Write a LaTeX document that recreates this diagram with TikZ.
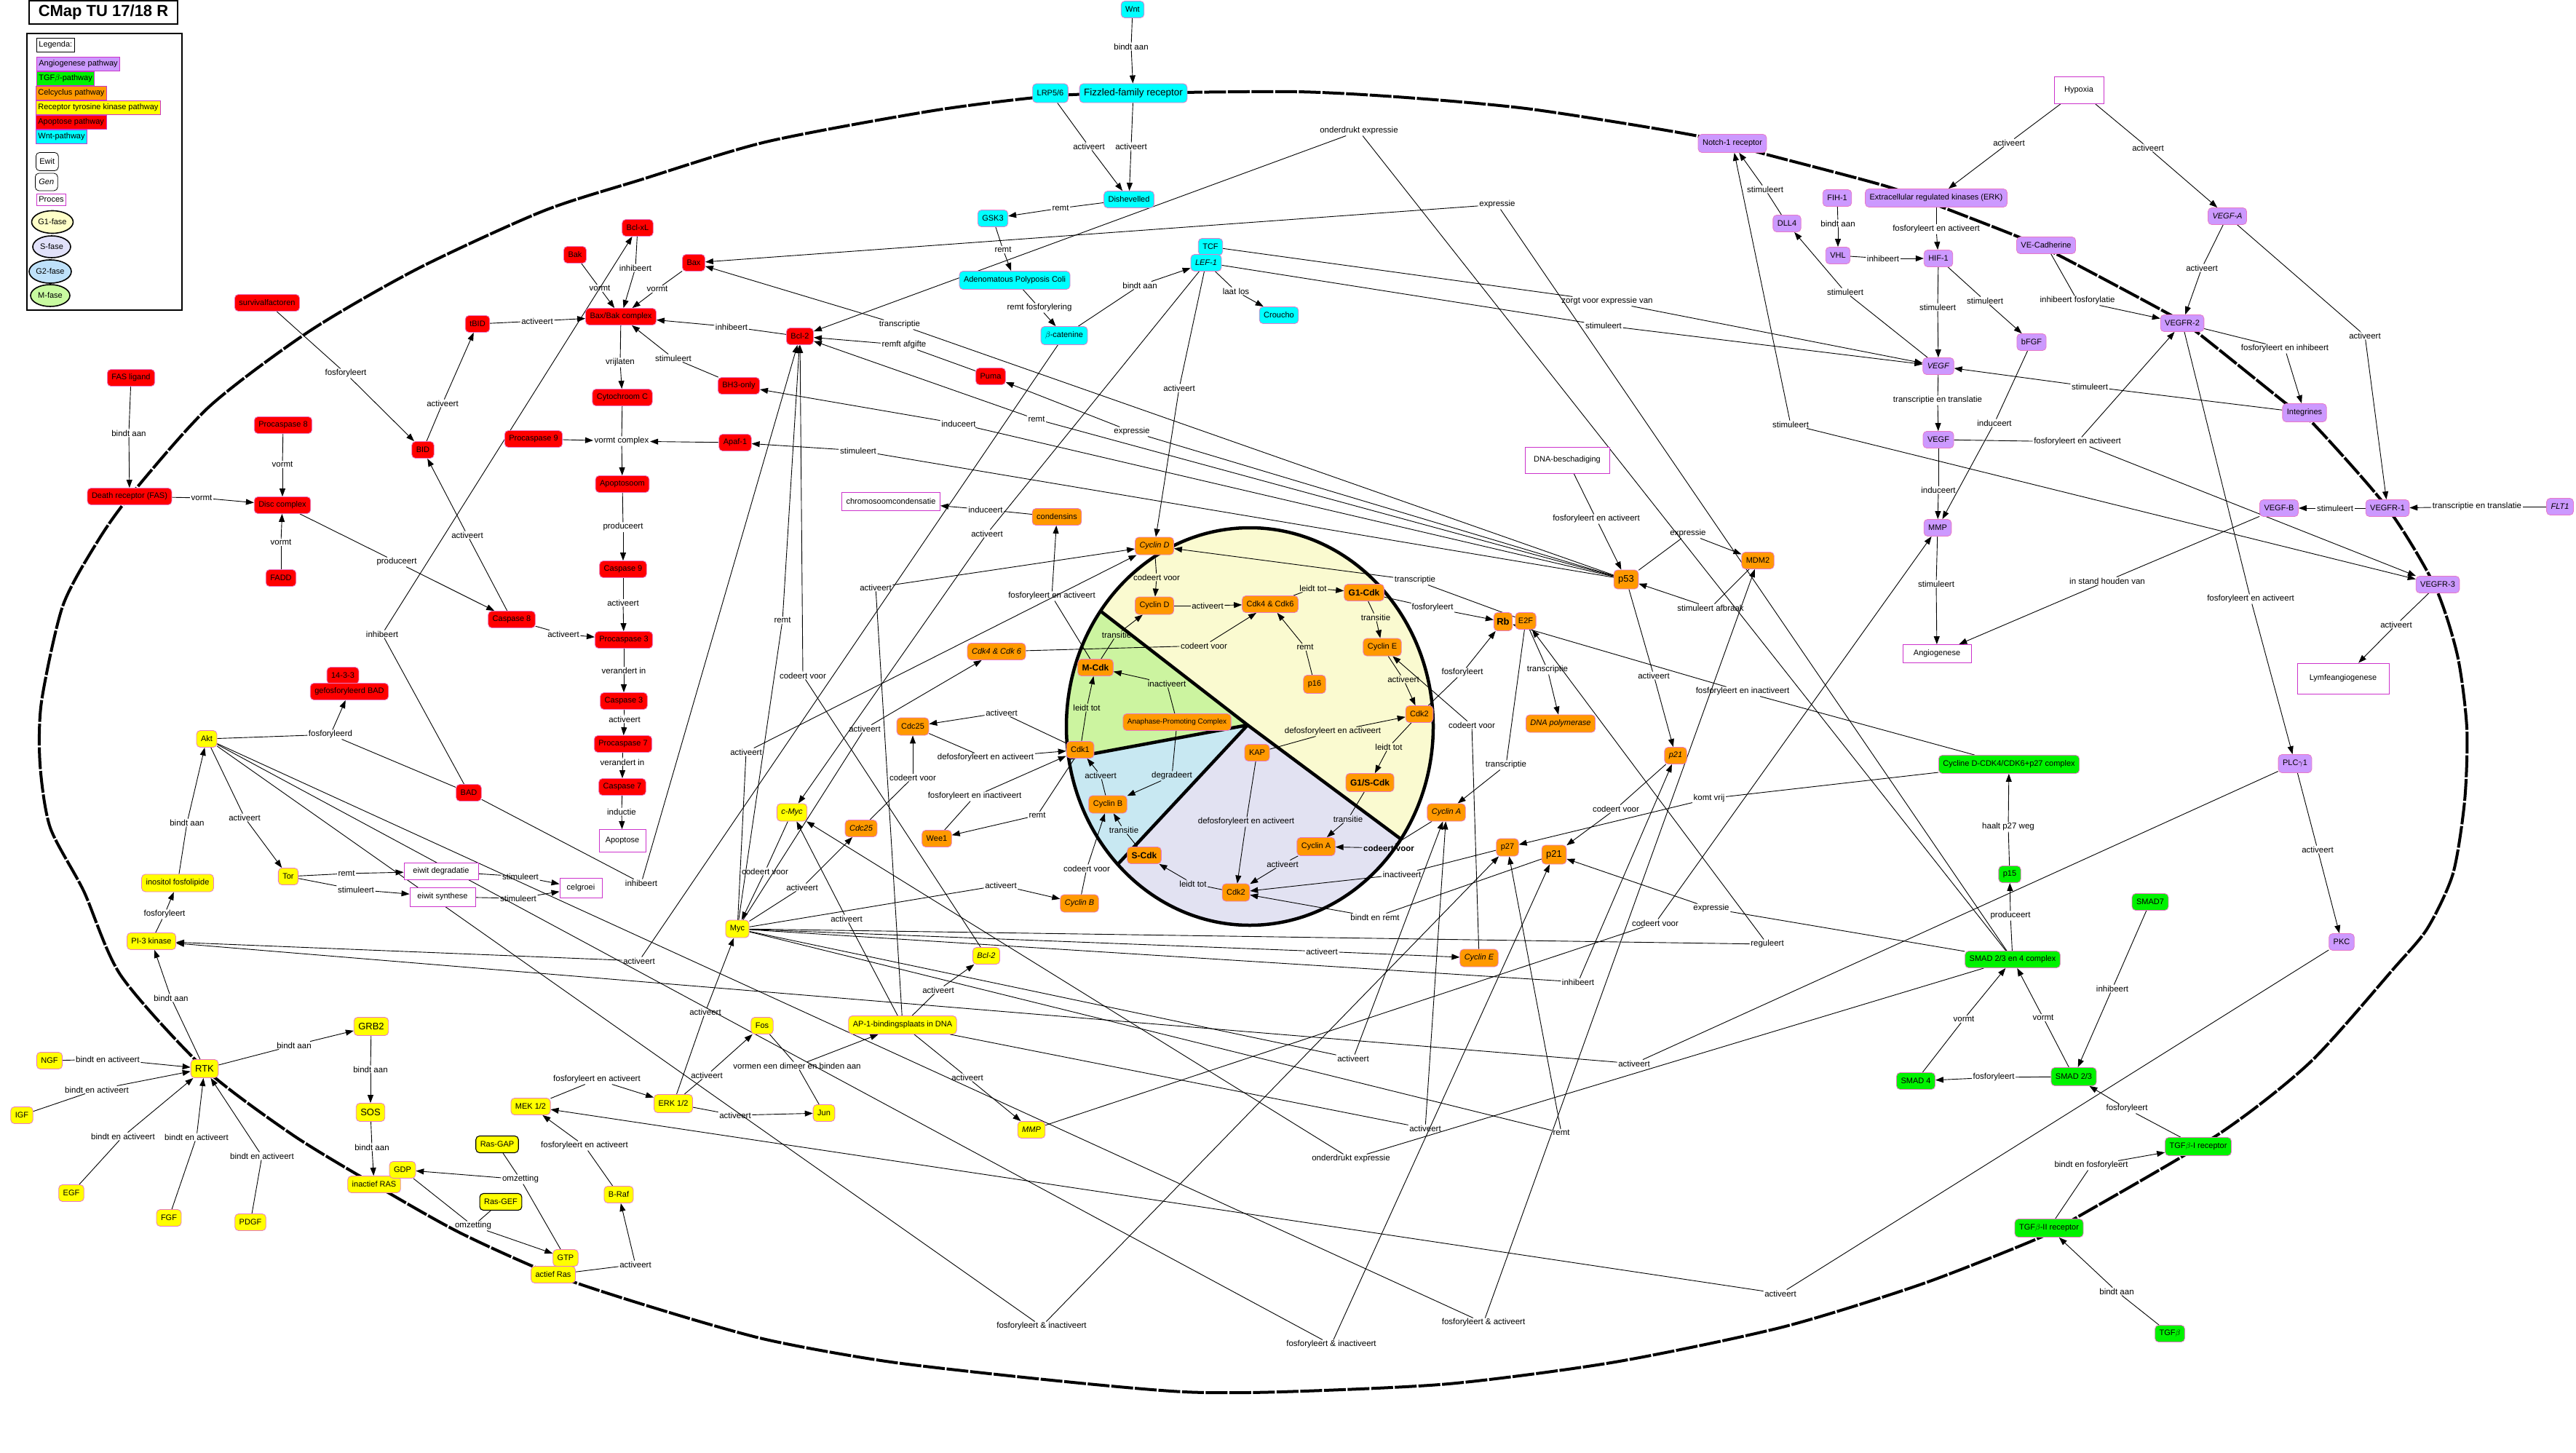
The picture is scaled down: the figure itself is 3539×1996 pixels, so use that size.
\documentclass[tikz,border=0pt]{standalone}
\usepackage{fontspec}
\setmainfont{Liberation Sans}
\usetikzlibrary{arrows.meta,shapes.geometric}
\pgfdeclarelayer{back}
\pgfdeclarelayer{edges}
\pgfsetlayers{back,edges,main}
\definecolor{cpurple}{RGB}{204,153,255}
\definecolor{cgreen}{RGB}{0,242,0}
\definecolor{corange}{RGB}{255,153,0}
\definecolor{cyellow}{RGB}{255,255,0}
\definecolor{cred}{RGB}{255,0,0}
\definecolor{ccyan}{RGB}{0,255,255}
\definecolor{cmag}{RGB}{204,51,204}
\definecolor{cbord}{RGB}{232,120,200}
\definecolor{g1col}{RGB}{250,250,208}
\definecolor{scol}{RGB}{226,226,242}
\definecolor{g2col}{RGB}{200,232,242}
\definecolor{mcol}{RGB}{204,244,160}
\definecolor{lg1}{RGB}{255,255,200}
\definecolor{lgs}{RGB}{225,225,250}
\definecolor{lg2}{RGB}{190,225,250}
\definecolor{lgm}{RGB}{200,250,160}
\newcommand{\cmrel}[5]{%
  \node[lbl] (#2) at (#3) {#4};%
  \begin{pgfonlayer}{edges}\draw[ln] (#1) -- (#2);\draw[ar] (#2) -- (#5);\end{pgfonlayer}}
\newcommand{\cmln}[2]{\begin{pgfonlayer}{edges}\draw[ln] (#1) -- (#2);\end{pgfonlayer}}
\newcommand{\cmar}[2]{\begin{pgfonlayer}{edges}\draw[ar] (#1) -- (#2);\end{pgfonlayer}}
\begin{document}
\begin{tikzpicture}[x=1pt,y=-1pt,
  nd/.style={rectangle, rounded corners=5pt, draw=cbord, line width=0.8pt, inner xsep=6pt, inner ysep=2pt, minimum height=23pt, font=\fontsize{11}{13}\selectfont, text=black},
  nR/.style={nd, fill=cred}, nY/.style={nd, fill=cyellow}, nO/.style={nd, fill=corange},
  nP/.style={nd, fill=cpurple}, nG/.style={nd, fill=cgreen}, nC/.style={nd, fill=ccyan},
  pr/.style={rectangle, draw=cmag, line width=0.9pt, fill=white, inner xsep=6pt, font=\fontsize{11}{13}\selectfont},
  lbl/.style={inner xsep=1.5pt, inner ysep=1pt, font=\fontsize{11.5}{13}\selectfont, text=black},
  ln/.style={line width=0.9pt, black},
  ar/.style={ln, -{Triangle[length=11pt,width=8pt]}},
  big/.style={font=\fontsize{13}{15}\selectfont},
  bld/.style={font=\bfseries\fontsize{12}{14}\selectfont},
  lg/.style={rectangle, draw=cmag, line width=0.8pt, inner xsep=3pt, inner ysep=2pt, minimum height=19pt, font=\fontsize{11}{13}\selectfont, anchor=west},
  lge/.style={ellipse, draw=black, line width=1.6pt, inner sep=0pt, font=\fontsize{11}{13}\selectfont},
  cyc/.style={line width=4.5pt, black},
  memb/.style={line width=4pt, black, dash pattern=on 30pt off 2.5pt}
]
\useasboundingbox (0,0) rectangle (3539,1996);
\begin{pgfonlayer}{back}
\fill[white] (0,0) rectangle (3539,1996);
\begin{scope}
\clip (1717,998) ellipse [x radius=252pt, y radius=273pt];
\fill[g1col] (1714,996) -- (1119,535) -- (1300,300) -- (2400,200) -- (2400,1470) -- (2335,1458) -- cycle;
\fill[mcol] (1714,996) -- (970,1134) -- (900,700) -- (1119,535) -- cycle;
\fill[g2col] (1714,996) -- (1174,1575) -- (970,1134) -- cycle;
\fill[scol] (1714,996) -- (2335,1458) -- (1714,1800) -- (1174,1575) -- cycle;
\draw[cyc] (1714,996) -- (1119,535) (1714,996) -- (970,1134) (1714,996) -- (1174,1575) (1714,996) -- (2335,1458);
\end{scope}
\draw[cyc] (1717,998) ellipse [x radius=252pt, y radius=273pt];
\draw[memb] plot[smooth cycle, tension=0.45] coordinates {
 (178,682) (287,559) (425,455) (574,369) (746,290) (880,247) (1052,195) (1282,152) (1443,132)
 (1557,128) (1780,126) (1932,134) (2104,150) (2328,186) (2426,212) (2592,256) (2672,286)
 (2772,325) (2829,351) (2979,431) (3019,457) (3139,553) (3177,581) (3280,698) (3345,805)
 (3376,900) (3389,1000) (3386,1100) (3370,1200) (3335,1275) (3289,1330) (3174,1459)
 (3048,1558) (2852,1673) (2798,1702) (2640,1764) (2449,1823) (2219,1871) (1990,1901)
 (1760,1912) (1626,1912) (1454,1897) (1224,1871) (1052,1840) (900,1797) (760,1751)
 (631,1693) (514,1627) (402,1559) (281,1468) (166,1340) (115,1224) (69,1137) (55,1050)
 (57,964) (86,833) (132,747)};
\end{pgfonlayer}

% ---------- title and legend
\node[draw, line width=1.2pt, minimum width=204pt, minimum height=32pt, font=\bfseries\fontsize{22}{24}\selectfont] (title) at (142,17) {CMap TU 17/18 R};
\node[draw, line width=1.2pt, minimum width=213pt, minimum height=380pt] (legend) at (143.5,236) {};
\node[lg, draw=black] (lg0) at (50,62) {Legenda:};
\node[lg, fill=cpurple] (lg1) at (50,88) {Angiogenese pathway};
\node[lg, fill=cgreen] (lg2) at (50,108) {TGF$\beta$-pathway};
\node[lg, fill=corange] (lg3) at (49,128) {Celcyclus pathway};
\node[lg, fill=cyellow] (lg4) at (49,148) {Receptor tyrosine kinase pathway};
\node[lg, fill=cred] (lg5) at (49,168) {Apoptose pathway};
\node[lg, fill=ccyan] (lg6) at (49,188) {Wnt-pathway};
\node[nd, draw=black, fill=white, anchor=west, minimum height=25pt, inner xsep=5pt] (lg7) at (49,222) {Ewit};
\node[nd, draw=black, fill=white, anchor=west, minimum height=24pt, inner xsep=5pt] (lg8) at (48,250) {\textit{Gen}};
\node[lg, minimum height=16pt] (lg9) at (50,274) {Proces};
\node[lge, fill=lg1, minimum width=57pt, minimum height=31pt] (lgg1) at (72,305) {G1-fase};
\node[lge, fill=lgs, minimum width=52pt, minimum height=30pt] (lgs) at (71,339) {S-fase};
\node[lge, fill=lg2, minimum width=58pt, minimum height=32pt] (lgg2) at (69,373) {G2-fase};
\node[lge, fill=lgm, minimum width=54pt, minimum height=30pt] (lgm) at (69,406) {M-fase};

% ---------- apoptosis
\node[nR] (bclxl) at (876,313) {Bcl-xL};
\node[nR] (bak) at (790,350) {Bak};
\node[nR] (baxbak) at (853,435) {Bax/Bak complex};
\node[nR] (tbid) at (656,445) {tBID};
\node[nR] (survival) at (367,416) {survivalfactoren};
\node[nR] (fasl) at (180,519) {FAS ligand};
\node[nR] (procasp8) at (389,584) {Procaspase 8};
\node[nR] (bid) at (581,618) {BID};
\node[nR] (cytc) at (855,546) {Cytochroom C};
\node[nR] (procasp9) at (733,603) {Procaspase 9};
\node[nR] (apoptosoom) at (855,665) {Apoptosoom};
\node[nR] (deathr) at (178,682) {Death receptor (FAS)};
\node[nR] (disc) at (388,694) {Disc complex};
\node[nR] (fadd) at (386,794) {FADD};
\node[nR] (casp8) at (703,851) {Caspase 8};
\node[nR] (casp9) at (856,782) {Caspase 9};
\node[nR] (procasp3) at (857,879) {Procaspase 3};
\node[nR] (casp3) at (857,963) {Caspase 3};
\node[nR] (procasp7) at (856,1022) {Procaspase 7};
\node[nR] (casp7) at (855,1081) {Caspase 7};
\node[pr, minimum width=64pt, minimum height=31pt] (apoptose) at (855,1155) {Apoptose};
\node[nR] (n1433) at (471,928) {14-3-3};
\node[nR] (pbad) at (480,950) {gefosforyleerd BAD};
\node[nR] (bad) at (644,1089) {BAD};
\node[nR] (bax) at (953,361) {Bax};
\node[nR] (bcl2) at (1099,462) {Bcl-2};
\node[nR] (bh3) at (1015,530) {BH3-only};
\node[nR] (apaf) at (1010,608) {Apaf-1};
\node[nR] (puma) at (1361,517) {Puma};

% ---------- Wnt
\node[nC] (wnt) at (1556,13) {Wnt};
\node[nC, font=\fontsize{13.5}{15}\selectfont, minimum height=26pt] (fzd) at (1557,128) {Fizzled-family receptor};
\node[nC, minimum height=26pt] (lrp) at (1443,128) {LRP5/6};
\node[nC] (dsh) at (1551,274) {Dishevelled};
\node[nC] (gsk) at (1364,300) {GSK3};
\node[nC, minimum height=25pt] (apc) at (1394,385) {Adenomatous Polyposis Coli};
\node[nC, minimum height=25pt] (bcat) at (1462,461) {$\beta$-catenine};
\node[nC] (tcf) at (1663,339) {TCF};
\node[nC] (lef) at (1657,361) {\textit{LEF-1}};
\node[nC] (croucho) at (1757,433) {Croucho};

% ---------- angiogenesis
\node[nP, minimum height=25pt] (notch) at (2380,197) {Notch-1 receptor};
\node[nP] (dll4) at (2455,307) {DLL4};
\node[nP] (fih) at (2524,272) {FIH-1};
\node[nP] (vhl) at (2525,351) {VHL};
\node[nP, minimum height=25pt] (erk) at (2660,272) {Extracellular regulated kinases (ERK)};
\node[nP] (hif) at (2663,355) {HIF-1};
\node[nP] (vegfg) at (2663,503) {\textit{VEGF}};
\node[nP] (vegf) at (2663,604) {VEGF};
\node[pr, minimum width=68pt, minimum height=37pt] (hypoxia) at (2856,124) {Hypoxia};
\node[nP] (vegfa) at (3060,297) {\textit{VEGF-A}};
\node[nP] (vecad) at (2811,337) {VE-Cadherine};
\node[nP] (bfgf) at (2791,470) {bFGF};
\node[nP] (vegfr2) at (2998,444) {VEGFR-2};
\node[nP, minimum height=25pt] (integr) at (3166,567) {Integrines};
\node[nP] (mmpP) at (2662,725) {MMP};
\node[pr, minimum width=94pt, minimum height=25pt] (angio) at (2661,898) {Angiogenese};
\node[nP] (vegfb) at (3131,698) {VEGF-B};
\node[nP] (vegfr1) at (3280,698) {VEGFR-1};
\node[nP] (flt1) at (3517,696) {\textit{FLT1}};
\node[nP] (vegfr3) at (3349,803) {VEGFR-3};
\node[pr, minimum width=126pt, minimum height=42pt] (lymf) at (3219,932) {Lymfeangiogenese};
\node[nP, minimum height=25pt] (plc) at (3153,1049) {PLC$\gamma$1};
\node[nP] (pkc) at (3217,1294) {PKC};
\node[pr, minimum width=116pt, minimum height=36pt] (dnabes) at (2153,632) {DNA-beschadiging};

% ---------- TGF beta
\node[nG, minimum height=25pt] (cdcomplex) at (2760,1050) {Cycline D-CDK4/CDK6+p27 complex};
\node[nG] (p15) at (2761,1201) {p15};
\node[nG] (smad7) at (2954,1239) {SMAD7};
\node[nG] (smadc) at (2765,1318) {SMAD 2/3 en 4 complex};
\node[nG] (smad4) at (2632,1485) {SMAD 4};
\node[nG, minimum height=25pt] (smad23) at (2849,1479) {SMAD 2/3};
\node[nG, minimum height=25pt] (tgfr1) at (3020,1575) {TGF$\beta$-I receptor};
\node[nG, minimum height=25pt] (tgfr2) at (2815,1687) {TGF$\beta$-II receptor};
\node[nG] (tgfb) at (2981,1832) {TGF$\beta$};

% ---------- cell cycle
\node[pr, minimum width=135pt, minimum height=25pt] (chromo) at (1224,689) {chromosoomcondensatie};
\node[nO] (condensins) at (1452,710) {condensins};
\node[nO, minimum height=24pt] (cycDg) at (1586,750) {\textit{Cyclin D}};
\node[nO, minimum height=24pt] (cycD) at (1586,832) {Cyclin D};
\node[nO] (cdk46) at (1745,830) {Cdk4 \& Cdk6};
\node[nO] (cdk46g) at (1369,895) {\textit{Cdk4 \& Cdk 6}};
\node[nO, bld] (mcdk) at (1505,917) {M-Cdk};
\node[nO, font=\fontsize{10}{12}\selectfont] (apcc) at (1617,992) {Anaphase-Promoting Complex};
\node[nO, minimum height=24pt] (cdc25) at (1254,998) {Cdc25};
\node[nO] (cdk1) at (1484,1030) {Cdk1};
\node[nO] (cdc25g) at (1183,1138) {\textit{Cdc25}};
\node[nO] (wee1) at (1287,1152) {Wee1};
\node[nO, minimum height=24pt] (cycB) at (1522,1105) {Cyclin B};
\node[nO, bld] (scdk) at (1572,1175) {S-Cdk};
\node[nO, minimum height=24pt] (cdk2b) at (1698,1226) {Cdk2};
\node[nO, minimum height=24pt] (cycBg) at (1483,1241) {\textit{Cyclin B}};
\node[nO] (kap) at (1727,1034) {KAP};
\node[nO, bld] (g1cdk) at (1874,814) {G1-Cdk};
\node[nO, font=\bfseries\fontsize{13}{15}\selectfont, minimum height=25pt, inner xsep=4pt] (rb) at (2065,854) {Rb};
\node[nO, inner xsep=4pt] (e2f) at (2096,853) {E2F};
\node[nO, minimum height=24pt] (cycE) at (1899,889) {Cyclin E};
\node[nO, minimum height=25pt] (p16) at (1806,940) {p16};
\node[nO] (cdk2a) at (1950,981) {Cdk2};
\node[nO, minimum height=24pt] (dnapol) at (2144,994) {\textit{DNA polymerase}};
\node[nO, bld, minimum height=25pt] (g1scdk) at (1882,1075) {G1/S-Cdk};
\node[nO, minimum height=25pt] (cycA) at (1808,1163) {Cyclin A};
\node[nO, minimum height=24pt] (cycAg) at (1987,1116) {\textit{Cyclin A}};
\node[nO, minimum height=24pt] (p27) at (2071,1164) {p27};
\node[nO, big, minimum height=26pt] (p21) at (2135,1174) {p21};
\node[nO] (p21g) at (2302,1038) {\textit{p21}};
\node[nO, big, minimum height=26pt] (p53) at (2234,796) {p53};
\node[nO] (mdm2) at (2415,770) {MDM2};
\node[nO, minimum height=24pt] (cycEg) at (2032,1316) {\textit{Cyclin E}};

% ---------- RTK pathway
\node[nY] (akt) at (284,1015) {Akt};
\node[nY, minimum height=24pt] (inositol) at (244,1213) {inositol fosfolipide};
\node[nY] (tor) at (396,1204) {Tor};
\node[pr, minimum width=102pt, minimum height=23pt] (eiwitdeg) at (606,1197) {eiwit degradatie};
\node[pr, minimum width=90pt, minimum height=26pt] (eiwitsyn) at (608,1232) {eiwit synthese};
\node[pr, minimum width=58pt, minimum height=27pt] (celgroei) at (798,1220) {celgroei};
\node[nY] (pi3k) at (208,1293) {PI-3 kinase};
\node[nY, minimum height=24pt] (cmyc) at (1088,1116) {\textit{c-Myc}};
\node[nY, minimum height=24pt] (myc) at (1013,1276) {Myc};
\node[nY] (bcl2g) at (1355,1313) {\textit{Bcl-2}};
\node[nY, minimum height=25pt] (ap1) at (1240,1408) {AP-1-bindingsplaats in DNA};
\node[nY] (fos) at (1047,1409) {Fos};
\node[nY] (jun) at (1132,1529) {Jun};
\node[nY] (mmpg) at (1417,1552) {\textit{MMP}};
\node[nY, minimum height=25pt] (erk12) at (925,1516) {ERK 1/2};
\node[nY] (mek) at (729,1520) {MEK 1/2};
\node[nY] (braf) at (850,1641) {B-Raf};
\node[nY, big, minimum height=25pt] (rtk) at (281,1468) {RTK};
\node[nY, big, minimum height=25pt] (grb2) at (510,1410) {GRB2};
\node[nY, big, minimum height=25pt] (sos) at (509,1528) {SOS};
\node[nY] (inras) at (514,1627) {inactief RAS};
\node[nY] (gdp) at (553,1607) {GDP};
\node[nY, draw=black, line width=1.1pt] (rasgap) at (683,1572) {Ras-GAP};
\node[nY, draw=black, line width=1.1pt] (rasgef) at (688,1651) {Ras-GEF};
\node[nY] (actras) at (760,1751) {actief Ras};
\node[nY] (gtp) at (777,1728) {GTP};
\node[nY] (ngf) at (68,1457) {NGF};
\node[nY] (igf) at (30,1532) {IGF};
\node[nY] (egf) at (98,1639) {EGF};
\node[nY] (fgf) at (232,1673) {FGF};
\node[nY] (pdgf) at (344,1679) {PDGF};

% ---------- relations: apoptosis
\cmrel{fasl}{l1}{177,595}{bindt aan}{deathr}
\cmrel{deathr}{l2}{277,684}{vormt}{disc}
\cmrel{procasp8}{l3}{388,638}{vormt}{disc}
\cmrel{fadd}{l4}{386,745}{vormt}{disc}
\cmrel{survival}{l5}{475,513}{fosforyleert}{bid}
\cmrel{disc}{l6}{545,772}{produceert}{casp8}
\cmrel{casp8}{l7}{642,735}{activeert}{bid}
\cmrel{bid}{l8}{608,554}{activeert}{tbid}
\cmrel{tbid}{l9}{738,441}{activeert}{baxbak}
\cmrel{bak}{l10}{824,396}{vormt}{baxbak}
\cmrel{bax}{l11}{903,397}{vormt}{baxbak}
\cmrel{bclxl}{l12}{873,368}{inhibeert}{baxbak}
\cmrel{bcl2}{l13}{1005,449}{inhibeert}{baxbak}
\cmrel{bh3}{l14}{925,492}{stimuleert}{baxbak}
\cmrel{baxbak}{l15}{852,498}{vrijlaten}{cytc}
\node[lbl] (lvc) at (854,606) {vormt complex};
\cmln{cytc}{lvc}
\cmar{procasp9}{lvc}
\cmar{apaf}{lvc}
\cmar{lvc}{apoptosoom}
\cmrel{apoptosoom}{l17}{856,724}{produceert}{casp9}
\cmrel{casp9}{l18}{856,828}{activeert}{procasp3}
\cmrel{casp8}{l19}{774,871}{activeert}{procasp3}
\cmrel{procasp3}{l20}{857,921}{verandert in}{casp3}
\cmrel{casp3}{l21}{858,988}{activeert}{procasp7}
\cmrel{procasp7}{l22}{855,1047}{verandert in}{casp7}
\cmrel{casp7}{l23}{854,1115}{inductie}{apoptose}
\cmrel{bad}{l24}{525,871}{inhibeert}{bclxl}
\cmrel{bad}{l25}{881,1213}{inhibeert}{bcl2}
\cmrel{akt}{l26}{454,1009}{fosforyleerd}{pbad}
\cmln{bad}{l26}
\cmrel{puma}{l27}{1242,474}{remft afgifte}{bcl2}
\cmrel{p53}{l28}{1236,446}{transcriptie}{bax}
\cmrel{p53}{l29}{1424,576}{remt}{bcl2}
\cmrel{p53}{l30}{1555,593}{expressie}{puma}
\cmrel{p53}{l31}{1317,582}{induceert}{bh3}
\cmrel{p53}{l32}{1179,619}{stimuleert}{apaf}
\cmrel{smadc}{l33}{2057,281}{expressie}{bax}
\cmrel{smadc}{l34}{1867,180}{onderdrukt expressie}{bcl2}
\cmrel{myc}{l35}{1075,852}{remt}{bcl2}
\cmrel{bcl2g}{l36}{1103,928}{codeert voor}{bcl2}

% ---------- Wnt
\cmrel{wnt}{l38}{1554,64}{bindt aan}{fzd}
\cmrel{lrp}{l39}{1496,201}{activeert}{dsh}
\cmrel{fzd}{l40}{1554,201}{activeert}{dsh}
\cmrel{dsh}{l41}{1457,286}{remt}{gsk}
\cmrel{gsk}{l42}{1378,343}{remt}{apc}
\cmrel{apc}{l43}{1428,423}{remt fosforylering}{bcat}
\cmrel{bcat}{l44}{1566,392}{bindt aan}{lef}
\cmrel{lef}{l45}{1698,400}{laat los}{croucho}
\cmrel{lef}{l46}{1620,533}{activeert}{cycDg}
\cmrel{tcf}{l47}{2208,414}{zorgt voor expressie van}{vegfg}
\cmrel{lef}{l48}{2203,447}{stimuleert}{vegfg}
\cmrel{lef}{l49}{1356,733}{activeert}{cmyc}

% ---------- angiogenesis
\cmrel{hypoxia}{l50}{2760,196}{activeert}{erk}
\cmrel{hypoxia}{l51}{2951,203}{activeert}{vegfa}
\cmrel{dll4}{l52}{2425,260}{stimuleert}{notch}
\cmrel{fih}{l53}{2525,307}{bindt aan}{vhl}
\cmrel{vhl}{l54}{2587,355}{inhibeert}{hif}
\cmrel{erk}{l55}{2660,315}{fosforyleert en activeert}{hif}
\cmrel{hif}{l56}{2662,422}{stimuleert}{vegfg}
\cmrel{hif}{l57}{2727,413}{stimuleert}{bfgf}
\cmrel{vecad}{l58}{2854,413}{inhibeert fosforylatie}{vegfr2}
\cmrel{vegfa}{l59}{3025,368}{activeert}{vegfr2}
\cmrel{vegfa}{l60}{3249,461}{activeert}{vegfr1}
\cmrel{vegfr2}{l61}{3139,479}{fosforyleert en inhibeert}{integr}
\cmrel{integr}{l62}{2871,531}{stimuleert}{vegfg}
\cmrel{vegfg}{l63}{2535,401}{stimuleert}{dll4}
\cmrel{vegfg}{l64}{2662,550}{transcriptie en translatie}{vegf}
\cmrel{vegf}{l65}{2854,607}{fosforyleert en activeert}{vegfr2}
\cmar{l65}{vegfr3}
\cmrel{bfgf}{l66}{2740,581}{induceert}{mmpP}
\cmrel{vegf}{l67}{2663,673}{induceert}{mmpP}
\cmrel{mmpP}{l68}{2660,802}{stimuleert}{angio}
\cmrel{vegfb}{l69}{2895,798}{in stand houden van}{angio}
\cmrel{vegfr1}{l70}{3208,698}{stimuleert}{vegfb}
\cmrel{flt1}{l71}{3403,696}{transcriptie en translatie}{vegfr1}
\cmrel{vegfr3}{l72}{3292,858}{activeert}{lymf}
\cmrel{vegfr2}{l73}{3092,823}{fosforyleert en activeert}{plc}
\cmrel{plc}{l74}{3184,1167}{activeert}{pkc}
\node[lbl] (l75) at (2460,583) {stimuleert};
\cmar{l75}{notch}
\cmar{l75}{vegfr3}
\cmrel{mmpg}{l76}{2274,1268}{codeert voor}{mmpP}
\cmrel{dnabes}{l77}{2193,713}{fosforyleert en activeert}{p53}

% ---------- TGF beta
\cmrel{tgfb}{l78}{2908,1774}{bindt aan}{tgfr2}
\cmrel{tgfr2}{l79}{2873,1601}{bindt en fosforyleert}{tgfr1}
\cmrel{tgfr1}{l80}{2922,1523}{fosforyleert}{smad23}
\cmrel{smad23}{l81}{2739,1480}{fosforyleert}{smad4}
\cmrel{smad7}{l82}{2902,1358}{inhibeert}{smad23}
\cmrel{smad4}{l83}{2698,1400}{vormt}{smadc}
\cmrel{smad23}{l84}{2807,1398}{vormt}{smadc}
\cmrel{smadc}{l85}{2762,1258}{produceert}{p15}
\cmrel{p15}{l86}{2759,1136}{haalt p27 weg}{cdcomplex}
\cmrel{cdcomplex}{l87}{2394,950}{fosforyleert en inactiveert}{rb}
\cmrel{cdcomplex}{l88}{2348,1097}{komt vrij}{p27}
\cmrel{smadc}{l89}{2351,1248}{expressie}{p21}
\cmrel{smadc}{l90}{1856,1592}{onderdrukt expressie}{cmyc}
\cmrel{plc}{l91}{2245,1461}{activeert}{pi3k}
\cmrel{pkc}{l92}{2446,1777}{activeert}{mek}

% ---------- cell cycle
\cmrel{condensins}{l93}{1354,700}{induceert}{chromo}
\cmrel{mcdk}{l94}{1445,819}{fosforyleert en activeert}{condensins}
\cmrel{cycDg}{l95}{1589,793}{codeert voor}{cycD}
\cmrel{cycD}{l96}{1659,832}{activeert}{cdk46}
\cmrel{cdk46g}{l97}{1654,887}{codeert voor}{cdk46}
\cmrel{mcdk}{l98}{1534,872}{transitie}{cycD}
\cmrel{apcc}{l99}{1603,939}{inactiveert}{mcdk}
\cmrel{cdk1}{l100}{1493,972}{leidt tot}{mcdk}
\cmrel{cdk1}{l101}{1376,979}{activeert}{cdc25}
\cmrel{cdc25}{l102}{1354,1041}{defosforyleert en activeert}{cdk1}
\cmrel{cdc25g}{l103}{1254,1068}{codeert voor}{cdc25}
\cmrel{wee1}{l104}{1339,1094}{fosforyleert en inactiveert}{cdk1}
\cmrel{cdk1}{l105}{1425,1120}{remt}{wee1}
\cmrel{cycB}{l106}{1512,1065}{activeert}{cdk1}
\cmrel{apcc}{l107}{1610,1066}{degradeert}{cycB}
\cmrel{scdk}{l108}{1544,1140}{transitie}{cycB}
\cmrel{cdk2b}{l109}{1639,1214}{leidt tot}{scdk}
\cmrel{cycBg}{l110}{1493,1193}{codeert voor}{cycB}
\cmrel{myc}{l111}{1375,1216}{activeert}{cycBg}
\cmrel{kap}{l112}{1712,1129}{defosforyleert en activeert}{cdk2b}
\cmrel{cycA}{l113}{1762,1187}{activeert}{cdk2b}
\cmrel{cdk46}{l114}{1804,808}{leidt tot}{g1cdk}
\cmrel{e2f}{l115}{1944,797}{transcriptie}{cycDg}
\cmrel{g1cdk}{l116}{1968,835}{fosforyleert}{rb}
\cmrel{g1cdk}{l117}{1890,848}{transitie}{cycE}
\cmrel{p16}{l118}{1793,889}{remt}{cdk46}
\cmrel{cycE}{l119}{1928,933}{activeert}{cdk2a}
\cmrel{cdk2a}{l120}{2009,924}{fosforyleert}{rb}
\cmrel{cycEg}{l121}{2022,996}{codeert voor}{cycE}
\cmrel{e2f}{l122}{2126,920}{transcriptie}{dnapol}
\cmrel{e2f}{l123}{2069,1051}{transcriptie}{cycAg}
\cmrel{kap}{l124}{1831,1005}{defosforyleert en activeert}{cdk2a}
\cmrel{cdk2a}{l125}{1908,1026}{leidt tot}{g1scdk}
\cmrel{g1scdk}{l126}{1852,1125}{transitie}{cycA}
\cmrel{cycAg}{l127}{1908,1165}{\textbf{codeert voor}}{cycA}
\cmrel{p27}{l128}{1926,1201}{inactiveert}{cdk2b}
\cmrel{p21}{l129}{1889,1260}{bindt en remt}{cdk2b}
\cmrel{myc}{l130}{1816,1307}{activeert}{cycEg}
\cmrel{p53}{l131}{2319,733}{expressie}{mdm2}
\cmrel{mdm2}{l132}{2350,835}{stimuleert afbraak}{p53}
\cmrel{p53}{l133}{2272,928}{activeert}{p21g}
\cmrel{p21g}{l134}{2220,1111}{codeert voor}{p21}
\cmrel{myc}{l135}{2428,1297}{reguleert}{e2f}
\cmrel{myc}{l136}{1859,1454}{activeert}{cycAg}
\cmrel{ap1}{l137}{1958,1550}{activeert}{cycAg}
\cmrel{myc}{l138}{2145,1556}{remt}{p27}
\cmrel{myc}{l139}{2168,1349}{inhibeert}{p21g}
\cmrel{akt}{l140}{2038,1817}{fosforyleert \& activeert}{mdm2}
\cmrel{akt}{l141}{1829,1847}{fosforyleert \& inactiveert}{p21}
\cmrel{akt}{l142}{1431,1822}{fosforyleert \& inactiveert}{p27}
\cmrel{ap1}{l143}{1203,807}{activeert}{cycDg}
\cmrel{myc}{l144}{1025,1033}{activeert}{cycDg}
\cmrel{myc}{l145}{1188,1001}{activeert}{cdk46g}
\cmrel{cmyc}{l146}{1051,1197}{codeert voor}{myc}
\cmrel{myc}{l147}{1102,1219}{activeert}{cdc25g}
\cmrel{ap1}{l148}{1163,1262}{activeert}{cmyc}
\cmrel{erk12}{l149}{969,1390}{activeert}{myc}

% ---------- RTK pathway
\cmrel{inositol}{l150}{257,1130}{bindt aan}{akt}
\cmrel{akt}{l151}{336,1123}{activeert}{tor}
\cmrel{tor}{l152}{476,1200}{remt}{eiwitdeg}
\cmrel{tor}{l153}{489,1222}{stimuleert}{eiwitsyn}
\cmrel{eiwitdeg}{l154}{715,1204}{stimuleert}{celgroei}
\cmrel{eiwitsyn}{l155}{712,1234}{stimuleert}{celgroei}
\cmrel{pi3k}{l156}{226,1256}{fosforyleert}{inositol}
\cmrel{rtk}{l157}{235,1371}{bindt aan}{pi3k}
\cmrel{bcat}{l158}{878,1320}{activeert}{pi3k}
\cmrel{ngf}{l159}{148,1455}{bindt en activeert}{rtk}
\cmrel{igf}{l160}{133,1497}{bindt en activeert}{rtk}
\cmrel{egf}{l161}{169,1561}{bindt en activeert}{rtk}
\cmrel{fgf}{l162}{270,1562}{bindt en activeert}{rtk}
\cmrel{pdgf}{l163}{360,1588}{bindt en activeert}{rtk}
\cmrel{rtk}{l164}{404,1436}{bindt aan}{grb2}
\cmrel{grb2}{l165}{509,1469}{bindt aan}{sos}
\cmrel{sos}{l166}{511,1576}{bindt aan}{inras}
\cmrel{gtp}{l167}{715,1620}{omzetting}{gdp}
\cmln{rasgap}{l167}
\cmrel{gdp}{l168}{650,1684}{omzetting}{gtp}
\cmln{rasgef}{l168}
\cmrel{actras}{l169}{873,1737}{activeert}{braf}
\cmrel{braf}{l170}{803,1574}{fosforyleert en activeert}{mek}
\cmrel{mek}{l171}{820,1483}{fosforyleert en activeert}{erk12}
\cmrel{erk12}{l172}{971,1477}{activeert}{fos}
\cmrel{erk12}{l173}{1010,1532}{activeert}{jun}
\cmrel{fos}{l174}{1095,1464}{vormen een dimeer en binden aan}{ap1}
\cmln{jun}{l174}
\cmrel{ap1}{l175}{1289,1360}{activeert}{bcl2g}
\cmrel{ap1}{l176}{1329,1480}{activeert}{mmpg}
\end{tikzpicture}
\end{document}
